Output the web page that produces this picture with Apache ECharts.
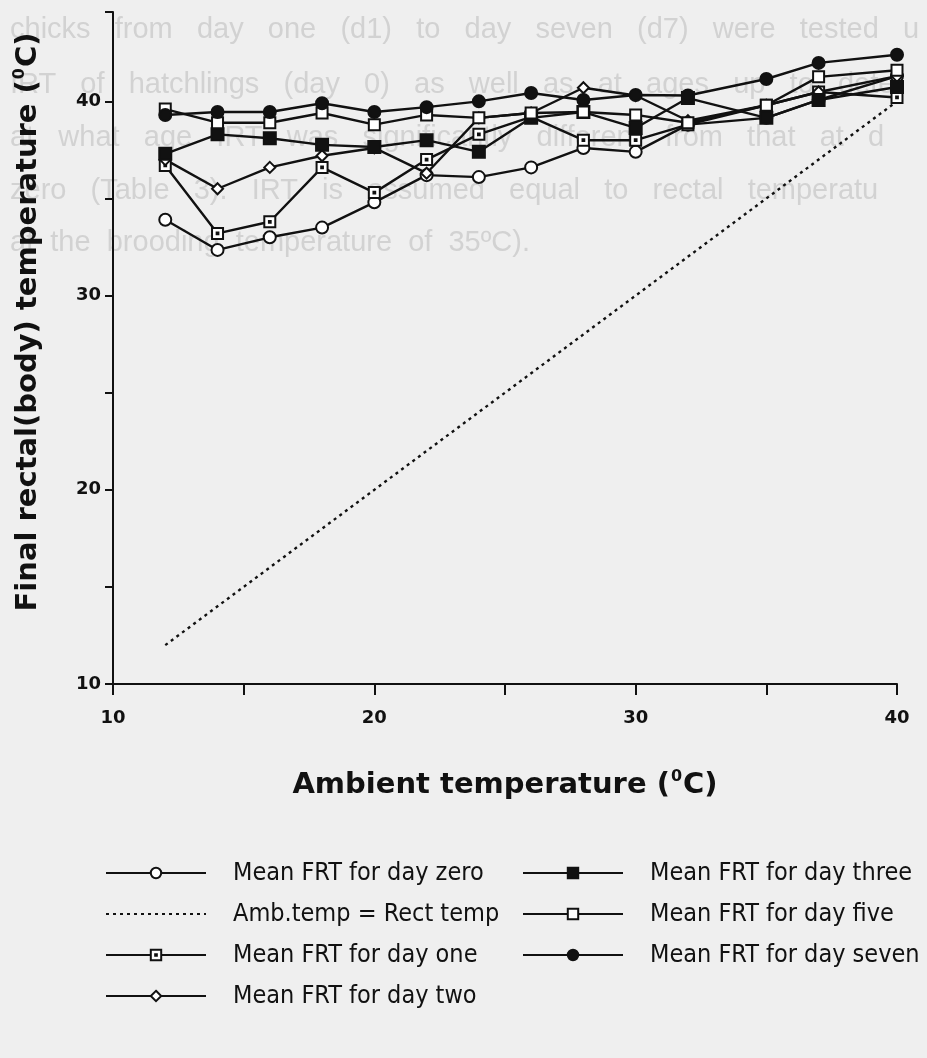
<!DOCTYPE html>
<html>
<head>
<meta charset="utf-8">
<script src="https://cdn.jsdelivr.net/npm/echarts@6/dist/echarts.min.js"></script>
<style>
  html, body { margin: 0; padding: 0; background: #efefef; }
  #chart { width: 927px; height: 1058px; }
</style>
</head>
<body>
<div id="chart"></div>
<script>
// Ambient temperatures at which chicks were tested (°C)
const ambientTemps = [12, 14, 16, 18, 20, 22, 24, 26, 28, 30, 32, 35, 37, 40];

// Mean final rectal temperature (°C) for each age group
const frtDay0 = [33.9, 32.35, 33.0, 33.5, 34.8, 36.2, 36.1, 36.6, 37.6, 37.4, 38.8, 39.15, 40.07, 41.3];
const frtDay1 = [36.7, 33.2, 33.8, 36.6, 35.3, 37.0, 38.3, 39.2, 38.0, 38.0, 38.8, 39.8, 40.48, 40.2];
const frtDay2 = [37.0, 35.5, 36.6, 37.2, 37.6, 36.3, 39.15, 39.4, 40.7, 40.3, 39.0, 39.8, 40.48, 41.3];
const frtDay3 = [37.3, 38.3, 38.1, 37.76, 37.65, 38.0, 37.4, 39.15, 39.45, 38.63, 40.17, 39.15, 40.07, 40.74];
const frtDay5 = [39.6, 38.9, 38.9, 39.4, 38.8, 39.3, 39.15, 39.4, 39.45, 39.3, 38.9, 39.8, 41.26, 41.6];
const frtDay7 = [39.3, 39.45, 39.45, 39.9, 39.45, 39.7, 40.0, 40.43, 40.07, 40.33, 40.3, 41.15, 41.98, 42.4];

// Reference line where ambient temperature equals rectal temperature
const equalityLine = [12, 40];

const xTickLabels = [10, 20, 30, 40];
const yTickLabels = [10, 20, 30, 40];

const seriesNames = {
  day0: 'Mean FRT for day zero',
  amb: 'Amb.temp = Rect temp',
  day1: 'Mean FRT for day one',
  day2: 'Mean FRT for day two',
  day3: 'Mean FRT for day three',
  day5: 'Mean FRT for day five',
  day7: 'Mean FRT for day seven'
};

// Page text showing through from the reverse side of the sheet
const showThrough = [
  'chicks   from   day   one   (d1)   to   day   seven   (d7)   were   tested   u',
  'IRT   of   hatchlings   (day   0)   as   well   as   at   ages   up   to   dete',
  'at   what   age   IRT   was   significantly   different   from   that   at   d',
  'zero   (Table   3).   IRT   is   assumed   equal   to   rectal   temperatu',
  'at  the  brooding  temperature  of  35ºC).'
];
const showThroughTop = [15, 70, 123, 176, 228];

const pair = (xs, ys) => xs.map((x, i) => [x, ys[i]]);

// small square with a dot in the middle
const dotSquare = 'path://M0,0L10,0L10,10L0,10Z M4.2,4.2L5.8,4.2L5.8,5.8L4.2,5.8Z';

const lineBase = {
  type: 'line',
  showSymbol: true,
  lineStyle: { color: '#111', width: 2.4 },
  emphasis: { disabled: true },
  z: 3
};

function frtSeries(name, ys, symbol, filled, size) {
  return Object.assign({}, lineBase, {
    name: name,
    data: pair(ambientTemps, ys),
    symbol: symbol,
    symbolSize: size,
    itemStyle: {
      color: filled ? '#111' : '#fff',
      borderColor: '#111',
      borderWidth: 2
    }
  });
}

const chart = echarts.init(document.getElementById('chart'), null, { renderer: 'canvas' });

const tickFont = { fontFamily: 'DejaVu Sans', fontSize: 18, color: '#111', fontWeight: 'bold' };
const nameFont = { fontFamily: 'DejaVu Sans', fontSize: 29, color: '#111', fontWeight: 'bold' };
const supFont = { fontFamily: 'DejaVu Sans', fontSize: 16, color: '#111', fontWeight: 'bold', verticalAlign: 'top', padding: [0, 1, 17, 1] };
const legendFont = { fontFamily: 'DejaVu Sans Condensed', fontSize: 25, color: '#111' };

chart.setOption({
  backgroundColor: '#efefef',
  animation: false,
  graphic: showThrough.map((t, i) => ({
    type: 'text',
    left: 10,
    top: showThroughTop[i],
    z: -10,
    silent: true,
    style: {
      text: t,
      fill: '#d2d2d2',
      font: '29px "Liberation Sans"'
    }
  })),
  grid: { left: 113, right: 30, top: 12, bottom: 374 },
  xAxis: {
    type: 'value',
    min: 10,
    max: 40,
    interval: 5,
    name: '{t|Ambient temperature (}{s|0}{t|C)}',
    nameLocation: 'middle',
    nameGap: 85,
    nameTextStyle: { rich: { t: nameFont, s: supFont } },
    axisLine: { lineStyle: { color: '#111', width: 2 } },
    axisTick: { inside: false, length: 11, lineStyle: { color: '#111', width: 2 } },
    axisLabel: {
      margin: 25,
      formatter: v => (xTickLabels.indexOf(v) >= 0 ? String(v) : ''),
      ...tickFont
    },
    splitLine: { show: false }
  },
  yAxis: {
    type: 'value',
    min: 10,
    max: 44.6,
    interval: 5,
    name: '{t|Final rectal(body) temperature (}{s|0}{t|C)}',
    nameLocation: 'middle',
    nameGap: 68,
    nameRotate: 90,
    nameTextStyle: {
      padding: [0, 0, 0, 52],
      rich: { t: nameFont, s: supFont }
    },
    axisLine: { lineStyle: { color: '#111', width: 2 } },
    axisTick: { inside: false, length: 8, lineStyle: { color: '#111', width: 2 } },
    axisLabel: {
      margin: 12,
      formatter: v => (yTickLabels.indexOf(v) >= 0 ? String(v) : ''),
      ...tickFont
    },
    splitLine: { show: false }
  },
  legend: [
    {
      left: 100, top: 854, orient: 'vertical',
      itemWidth: 100, itemHeight: 13, itemGap: 13,
      textStyle: Object.assign({ padding: [0, 0, 0, 22], lineHeight: 28 }, legendFont),
      data: [seriesNames.day0, seriesNames.amb, seriesNames.day1, seriesNames.day2],
      selectedMode: false
    },
    {
      left: 517, top: 854, orient: 'vertical',
      itemWidth: 100, itemHeight: 13, itemGap: 13,
      textStyle: Object.assign({ padding: [0, 0, 0, 22], lineHeight: 28 }, legendFont),
      data: [seriesNames.day3, seriesNames.day5, seriesNames.day7],
      selectedMode: false
    }
  ],
  series: [
    Object.assign({}, lineBase, {
      name: seriesNames.amb,
      data: pair(equalityLine, equalityLine),
      symbol: 'none',
      lineStyle: { color: '#111', width: 2.4, type: [3, 4] },
      itemStyle: { color: 'rgba(0,0,0,0)', borderWidth: 0 },
      z: 2
    }),
    frtSeries(seriesNames.day0, frtDay0, 'circle', false, 12),
    frtSeries(seriesNames.day1, frtDay1, dotSquare, false, 11),
    frtSeries(seriesNames.day2, frtDay2, 'diamond', false, 11),
    frtSeries(seriesNames.day3, frtDay3, 'rect', true, 12),
    frtSeries(seriesNames.day5, frtDay5, 'rect', false, 11),
    frtSeries(seriesNames.day7, frtDay7, 'circle', true, 12)
  ]
});
</script>
</body>
</html>
